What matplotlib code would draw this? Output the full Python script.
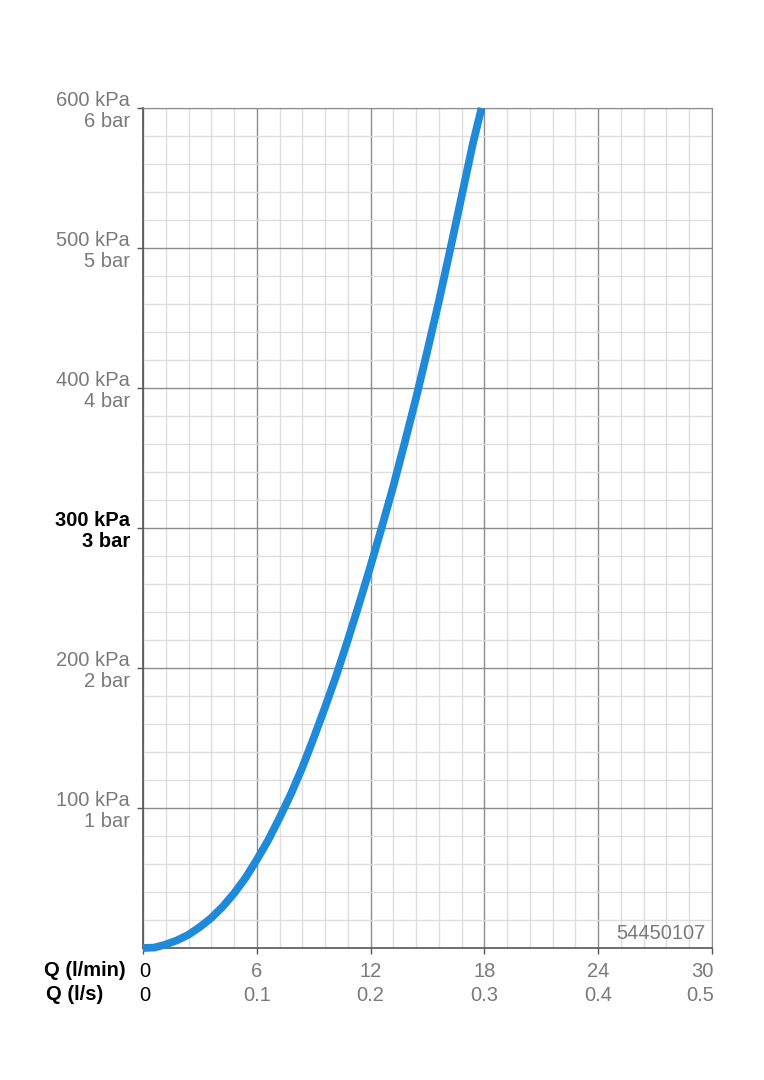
import matplotlib.pyplot as plt
from matplotlib.ticker import MultipleLocator
import matplotlib.transforms as mtransforms

plt.rcParams['font.family'] = ['Liberation Sans', 'DejaVu Sans']

# flow (l/min) vs pressure loss (kPa)
flow = [0, 0.6, 1.2, 1.8, 2.4, 3.0, 3.6, 4.2, 4.8, 5.4, 6.0, 6.6, 7.2, 7.8,
        8.4, 9.0, 9.6, 10.2, 10.8, 11.4, 12.0, 12.6, 13.2, 13.8, 14.4, 15.0,
        15.6, 16.2, 16.8, 17.4, 17.85]
pressure = [0, 0.3, 2.5, 5.5, 9.5, 15, 21.5, 29.5, 39, 50, 63, 77, 93, 110,
            129, 150, 172, 195, 220, 246, 273, 301, 330, 361, 393, 427,
            462, 499, 537, 575, 600]

x_major = [0, 6, 12, 18, 24, 30]
x_lmin = ['0', '6', '12', '18', '24', '30']
x_ls = ['0', '0.1', '0.2', '0.3', '0.4', '0.5']
y_major = [100, 200, 300, 400, 500, 600]
y_kpa = ['100 kPa', '200 kPa', '300 kPa', '400 kPa', '500 kPa', '600 kPa']
y_bar = ['1 bar', '2 bar', '3 bar', '4 bar', '5 bar', '6 bar']
code = '54450107'

grey = '#7a7a7a'
fs = 14.5

fig = plt.figure(figsize=(7.64, 10.8), dpi=100)
ax = fig.add_axes([143 / 764, 132 / 1080, 569 / 764, 840 / 1080])

ax.set_xlim(0, 30)
ax.set_ylim(0, 600)
ax.xaxis.set_major_locator(MultipleLocator(6))
ax.xaxis.set_minor_locator(MultipleLocator(1.2))
ax.yaxis.set_major_locator(MultipleLocator(100))
ax.yaxis.set_minor_locator(MultipleLocator(20))
ax.grid(which='minor', color='#dedede', linewidth=1.0)
ax.grid(which='major', color='#8c8c8c', linewidth=1.0)
ax.set_axisbelow(True)

for s in ['top', 'right']:
    ax.spines[s].set_color('#8c8c8c')
for s in ['left', 'bottom']:
    ax.spines[s].set_color('#555555')
    ax.spines[s].set_linewidth(1.2)

ax.plot(flow, pressure, color='#1e8ad9', linewidth=5.6, solid_capstyle='butt',
        solid_joinstyle='round', clip_on=False, zorder=3)

# y labels
ax.set_yticks(y_major)
ax.set_yticklabels([k + '\n' + b for k, b in zip(y_kpa, y_bar)],
                   fontsize=fs, color=grey, ha='right', linespacing=1.15)
ax.tick_params(axis='y', which='major', length=4.5, width=1, color='#555555', pad=5)
ax.tick_params(axis='y', which='minor', length=0)
for lab in ax.get_yticklabels():
    if lab.get_text().startswith('300'):
        lab.set_color('black')
        lab.set_fontweight('bold')

# x labels in two rows
ax.set_xticks(x_major)
ax.set_xticklabels([])
ax.tick_params(axis='x', which='major', length=4, width=1, color='#555555')
ax.tick_params(axis='x', which='minor', length=0)
trans = mtransforms.blended_transform_factory(ax.transData, ax.transAxes)
for i, (q, a, b) in enumerate(zip(x_major, x_lmin, x_ls)):
    c = 'black' if i == 0 else grey
    ha = 'right' if i == len(x_major) - 1 else 'center'
    xx = q + 0.12 if i == 0 else (q + 0.1 if i == len(x_major) - 1 else q)
    ax.text(xx, -0.0275, a, transform=trans, ha=ha, va='center', fontsize=fs, color=c)
    ax.text(xx, -0.056, b, transform=trans, ha=ha, va='center', fontsize=fs, color=c)

fig.text(44 / 764, 1 - 970 / 1080, 'Q (l/min)', ha='left', va='center',
         fontsize=fs, fontweight='bold', color='black')
fig.text(46 / 764, 1 - 994 / 1080, 'Q (l/s)', ha='left', va='center',
         fontsize=fs, fontweight='bold', color='black')

ax.text(0.988, 0.006, code, transform=ax.transAxes, ha='right', va='bottom',
        fontsize=fs, color=grey)

fig.savefig('out.png', dpi=100)
